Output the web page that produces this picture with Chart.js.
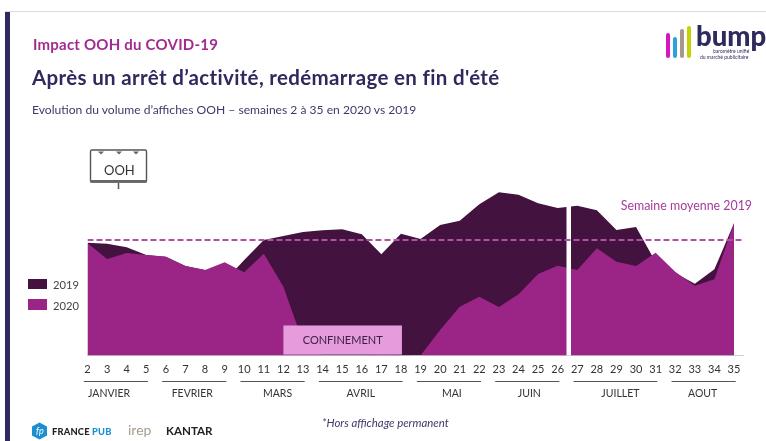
<!DOCTYPE html>
<html lang="fr"><head><meta charset="utf-8">
<script src="https://cdn.jsdelivr.net/npm/chart.js@4"></script>
<style>
html,body{margin:0;padding:0;background:#fff}
#wrap{position:relative;width:766px;height:441px;overflow:hidden;font-family:Lato,sans-serif}
canvas{position:absolute;left:0;top:0}
.t{position:absolute;white-space:nowrap;line-height:1}
.b{position:absolute}
</style></head><body>
<div id="wrap">
<canvas id="c" width="766" height="441"></canvas>
<div class="b" style="left:5px;top:11px;width:761px;height:1px;background:#dcdcdc"></div>
<div class="b" style="left:5px;top:12px;width:5px;height:429px;background:#2e2a5e"></div>
<div class="t" style="left:33px;top:37px;font-size:15px;font-weight:700;color:#a32a8f;letter-spacing:.22px">Impact OOH du COVID-19</div>
<div class="t" style="left:32px;top:67px;font-size:20.5px;font-weight:700;color:#2e2a5e;letter-spacing:.34px">Après un arrêt d’activité, redémarrage en fin d'été</div>
<div class="t" style="left:32px;top:104px;font-size:12.1px;color:#3d3a68">Evolution du volume d’affiches OOH – semaines 2 à 35 en 2020 vs 2019</div>

<svg class="b" style="left:88px;top:148px" width="62" height="42" viewBox="0 0 62 42">
<rect x="2.5" y="2" width="56" height="32" rx="1.5" fill="#fff" stroke="#555" stroke-width="1.4"/>
<rect x="2" y="32" width="57" height="2.5" fill="#666"/>
<path d="M30.5 35V41" stroke="#555" stroke-width="1.5"/>
<path d="M10 3.5h6l-3 3zM28 3.5h6l-3 3zM45 3.5h6l-3 3z" fill="#666"/>
</svg>
<div class="t" style="left:104px;top:164px;font-size:13px;color:#333">OOH</div>

<div class="b" style="left:28px;top:279px;width:19px;height:10px;background:#43123f"></div>
<div class="b" style="left:28px;top:299px;width:19px;height:11px;background:#9b2587"></div>
<div class="t" style="left:53px;top:279px;font-size:11.2px;color:#444">2019</div>
<div class="t" style="left:53px;top:300px;font-size:11.2px;color:#444">2020</div>

<div class="b" style="left:666px;top:33px;width:4px;height:25px;border-radius:2px;background:#d515c4"></div>
<div class="b" style="left:673px;top:37px;width:4px;height:21px;border-radius:2px;background:#2aa3d8"></div>
<div class="b" style="left:680px;top:29px;width:4px;height:29px;border-radius:2px;background:#a8978c"></div>
<div class="b" style="left:687px;top:26px;width:4px;height:32px;border-radius:2px;background:#c3d400"></div>
<div class="t" style="left:696px;top:22px;font-size:27.5px;font-weight:900;color:#2e2a5e">bump</div>
<div class="t" style="left:713px;top:49px;font-size:5px;color:#2e2a5e">baromètre unifié</div>
<div class="t" style="left:700px;top:55px;font-size:5px;color:#2e2a5e">du marché publicitaire</div>

<svg class="b" style="left:31px;top:422px" width="17" height="18" viewBox="0 0 17 18"><path d="M8.5 .5L16 4.5V13.5L8.5 17.5L1 13.5V4.5Z" fill="#1b8fd0"/></svg>
<div class="t" style="left:36px;top:426px;font-size:9px;font-style:italic;color:#fff">fp</div>
<div class="t" style="left:52px;top:427px;font-size:9.3px;font-weight:900;color:#222;letter-spacing:.2px">FRANCE <span style="color:#1b8fd0">PUB</span></div>
<div class="t" style="left:128px;top:423px;font-size:14px;color:#a89b8c">irep</div>
<div class="t" style="left:166px;top:425px;font-size:11.6px;font-weight:700;color:#222">KANTAR</div>
<div class="t" style="left:322px;top:417px;font-size:11.4px;font-style:italic;color:#3d3a68">*Hors affichage permanent</div>
</div>
<script>
const weeks=[2,3,4,5,6,7,8,9,10,11,12,13,14,15,16,17,18,19,20,21,22,23,24,25,26,27,28,29,30,31,32,33,34,35];
const values2019=[97.7,96.8,93.7,87,85.5,77.5,74,64.5,82.7,100,103.5,106.9,108.4,109.3,104.9,87.6,105.5,100.9,113,116.7,130.9,141.3,139.2,131.8,127.7,129.7,125.7,108.7,111.3,81,71.4,62.2,74.6,114.5];
const values2020=[97.1,83.5,88.7,87,85.5,77.5,74,80.7,72,88.1,59.6,11.7,0.3,0.3,0.3,0.8,0.5,0,22.1,42.3,50.9,42,53,70.6,77.7,74,92.8,81.2,77.5,89,72.6,60.4,66,114.5];
const averageLine=[{x:2,y:100},{x:35.45,y:100}];
const monthNames=['JANVIER','FEVRIER','MARS','AVRIL','MAI','JUIN','JUILLET','AOUT'];
const monthStart=[2,6,10,14,19,23,27,32];
const monthEnd=[5,9,13,18,22,26,31,35];
const monthLabelAt=[3.1,7.35,11.7,15.95,20.6,24.55,29.2,33.4];
const confinementWeeks=[12,18.05];
const breakWeeks=[26.45,26.68];
const pts=s=>weeks.map((w,i)=>({x:w,y:s[i]}));
const deco={id:'deco',
 beforeDatasetDraw(ch,a){ if(a.index!==2)return;
  const g=ch.ctx,x=ch.scales.x,y=ch.scales.y;
  g.save();g.fillStyle='#fff';
  const l=x.getPixelForValue(breakWeeks[0]),r=x.getPixelForValue(breakWeeks[1]);
  g.fillRect(l,ch.chartArea.top,r-l,y.getPixelForValue(0)-ch.chartArea.top);
  g.restore();
 },
 afterDraw(ch){
  const g=ch.ctx,x=ch.scales.x,y=ch.scales.y;
  g.save();
  g.fillStyle='#e69bdc';
  const l=x.getPixelForValue(confinementWeeks[0]),r=x.getPixelForValue(confinementWeeks[1]);
  const top=y.getPixelForValue(26),bot=y.getPixelForValue(0.8);
  g.fillRect(l,top,r-l,bot-top);
  g.textAlign='center';g.textBaseline='middle';
  g.fillStyle='#3c2145';g.font='11px Lato';
  g.fillText('CONFINEMENT',(l+r)/2,(top+bot)/2);
  g.fillStyle='#a83a9c';g.font='12.4px Lato';g.textAlign='right';
  g.fillText('Semaine moyenne 2019',752,206);
  g.strokeStyle='#555';g.lineWidth=1;g.fillStyle='#333';g.font='10.5px Lato';g.textAlign='center';
  monthNames.forEach((m,i)=>{
   const a=x.getPixelForValue(monthStart[i])-3.7,b=x.getPixelForValue(monthEnd[i])+1.7;
   g.beginPath();g.moveTo(a,381.5);g.lineTo(b,381.5);g.stroke();
   g.fillText(m,x.getPixelForValue(monthLabelAt[i]),394);
  });
  g.restore();
 }};
new Chart(document.getElementById('c'),{
 type:'line',
 data:{datasets:[
  {label:'2019',data:pts(values2019),borderWidth:0,backgroundColor:'#43123f',fill:'origin',pointRadius:0,tension:0,order:3},
  {label:'2020',data:pts(values2020),borderWidth:0,backgroundColor:'#9b2587',fill:'origin',pointRadius:0,tension:0,order:2},
  {label:'Semaine moyenne 2019',data:averageLine,borderColor:'#ad52a5',borderWidth:2,borderDash:[6,3],fill:false,pointRadius:0,tension:0,order:1}
 ]},
 options:{
  responsive:false,animation:false,
  layout:{padding:{left:87.5,right:22.2,top:182.25,bottom:0}},
  plugins:{legend:{display:false},tooltip:{enabled:false},title:{display:false}},
  scales:{
   x:{type:'linear',min:2,max:35.5,
      afterBuildTicks(s){s.ticks=weeks.map(w=>({value:w}));},
      afterFit(s){s.height=85.5;},
      grid:{display:false,drawTicks:false},
      border:{display:true,color:'#d0d0d0',width:1},
      ticks:{autoSkip:false,maxRotation:0,padding:7,color:'#333',font:{family:'Lato',size:11},
             callback:v=>String(v)}},
   y:{display:false,min:0,max:150}
  }
 },
 plugins:[deco]
});
</script>
</body></html>
